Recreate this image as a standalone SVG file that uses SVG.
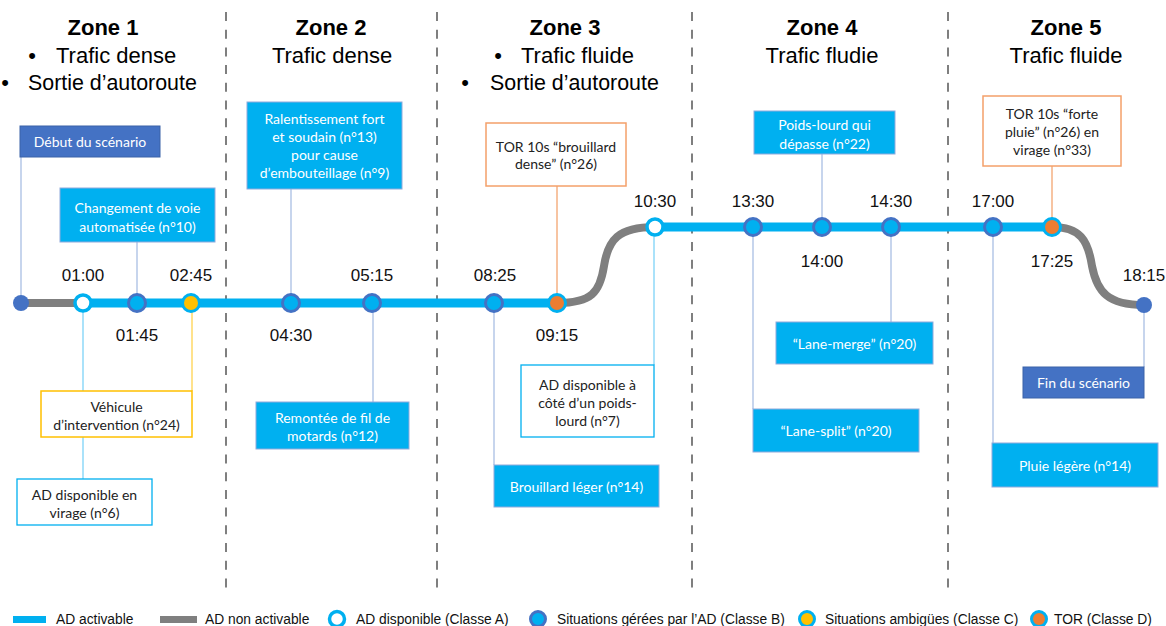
<svg xmlns="http://www.w3.org/2000/svg" width="1166" height="626" viewBox="0 0 1166 626">
<style>
.zt{font-family:"Liberation Sans",Arial,sans-serif;font-size:22px;font-weight:bold;fill:#000;text-anchor:middle}
.zl{font-family:"Liberation Sans",Arial,sans-serif;font-size:22px;fill:#000}
.zc{text-anchor:middle}
.ts{font-family:"Liberation Sans",Arial,sans-serif;font-size:17px;fill:#111;text-anchor:middle}
.bt{font-family:Lato,"Open Sans",sans-serif;font-size:14px;text-anchor:middle;dominant-baseline:central}
.w{fill:#fff}
.k{fill:#222}
.blue{fill:#00B0F0;stroke:#8FAADC;stroke-width:1}
.dark{fill:#4472C4;stroke:#3A62A8;stroke-width:1}
.wa{fill:#fff;stroke:#00B0F0;stroke-width:1.3}
.wc{fill:#fff;stroke:#FFC000;stroke-width:1.5}
.wd{fill:#fff;stroke:#F4A06A;stroke-width:1.5}
.sep{stroke:#7F7F7F;stroke-width:2;stroke-dasharray:9 8.7;fill:none}
.cb{stroke:#B4C7E7;stroke-width:1.5;fill:none}
.ca{stroke:#8ED8F8;stroke-width:1.5;fill:none}
.cy{stroke:#FFD966;stroke-width:1.5;fill:none}
.co{stroke:#F4B183;stroke-width:1.5;fill:none}
.on{stroke:#00B0F0;stroke-width:9;fill:none}
.off{stroke:#7F7F7F;stroke-width:8;fill:none}
.pA{fill:#fff;stroke:#00B0F0;stroke-width:3.5}
.pB{fill:#00B0F0;stroke:#4472C4;stroke-width:3}
.pC{fill:#FFC000;stroke:#00B0F0;stroke-width:3}
.pD{fill:#ED7D31;stroke:#00B0F0;stroke-width:3}
.pE{fill:#4472C4}
.lg{font-family:"Liberation Sans",Arial,sans-serif;font-size:13.8px;fill:#111}
</style>

<g id="separators">
<line class="sep" x1="226" y1="12" x2="226" y2="592"/>
<line class="sep" x1="437" y1="12" x2="437" y2="592"/>
<line class="sep" x1="692" y1="12" x2="692" y2="592"/>
<line class="sep" x1="948" y1="12" x2="948" y2="592"/>
</g>

<g id="headers">
<g id="zone1">
<text class="zt" x="103" y="35">Zone 1</text>
<text class="zl" x="32" y="63" text-anchor="middle">•</text>
<text class="zl" x="56" y="63">Trafic dense</text>
<text class="zl" x="5" y="90" text-anchor="middle">•</text>
<text class="zl" x="28" y="90" style="font-size:21.4px">Sortie d’autoroute</text>
</g>
<g id="zone2">
<text class="zt" x="331" y="35">Zone 2</text>
<text class="zl zc" x="332" y="63">Trafic dense</text>
</g>
<g id="zone3">
<text class="zt" x="565" y="35">Zone 3</text>
<text class="zl" x="498" y="63" text-anchor="middle">•</text>
<text class="zl" x="521" y="63">Trafic fluide</text>
<text class="zl" x="465" y="90" text-anchor="middle">•</text>
<text class="zl" x="490" y="90" style="font-size:21.4px">Sortie d’autoroute</text>
</g>
<g id="zone4">
<text class="zt" x="822" y="35">Zone 4</text>
<text class="zl zc" x="822" y="63">Trafic fludie</text>
</g>
<g id="zone5">
<text class="zt" x="1066" y="35">Zone 5</text>
<text class="zl zc" x="1066" y="63">Trafic fluide</text>
</g>
</g>

<g id="connectors">
<line class="cb" x1="21" y1="157" x2="21" y2="303"/>
<line class="cb" x1="137" y1="242" x2="137" y2="303"/>
<line class="cb" x1="291" y1="189" x2="291" y2="303"/>
<line class="ca" x1="83" y1="303" x2="83" y2="479"/>
<line class="cy" x1="192" y1="303" x2="192" y2="391"/>
<line class="cb" x1="373" y1="303" x2="373" y2="402"/>
<line class="co" x1="557" y1="186" x2="557" y2="303"/>
<line class="cb" x1="494" y1="303" x2="494" y2="465"/>
<line class="ca" x1="654" y1="227" x2="654" y2="365"/>
<line class="cb" x1="822" y1="154" x2="822" y2="227"/>
<line class="cb" x1="753" y1="227" x2="753" y2="409"/>
<line class="cb" x1="891" y1="227" x2="891" y2="322"/>
<line class="cb" x1="993" y1="227" x2="993" y2="443"/>
<line class="co" x1="1052" y1="166" x2="1052" y2="227"/>
<line class="cb" x1="1144" y1="305" x2="1144" y2="367"/>
</g>

<g id="timeline">
<line class="off" x1="21" y1="303" x2="83" y2="303"/>
<line class="on" x1="83" y1="303" x2="557" y2="303"/>
<path class="off" d="M557,303 C592,303 600,292 604,266 C608,240 618,227 655,227"/>
<line class="on" x1="655" y1="227" x2="1052" y2="227"/>
<path class="off" d="M1052,227 C1080,227 1088,240 1092,266 C1097,292 1108,305 1144,305"/>
</g>

<g id="points">
<circle class="pE" cx="21" cy="303" r="8"/>
<circle class="pA" cx="83" cy="303" r="8"/>
<circle class="pB" cx="137" cy="303" r="8.5"/>
<circle class="pC" cx="191" cy="303" r="8.5"/>
<circle class="pB" cx="291" cy="303" r="8.5"/>
<circle class="pB" cx="372" cy="303" r="8.5"/>
<circle class="pB" cx="494" cy="303" r="8.5"/>
<circle class="pD" cx="557" cy="303" r="8.5"/>
<circle class="pA" cx="655" cy="227" r="8"/>
<circle class="pB" cx="753" cy="227" r="8.5"/>
<circle class="pB" cx="822" cy="227" r="8.5"/>
<circle class="pB" cx="891" cy="227" r="8.5"/>
<circle class="pB" cx="993" cy="227" r="8.5"/>
<circle class="pD" cx="1052" cy="227" r="8.5"/>
<circle class="pE" cx="1144" cy="305" r="8"/>
</g>

<g id="times">
<text class="ts" x="83" y="281">01:00</text>
<text class="ts" x="137" y="341">01:45</text>
<text class="ts" x="191" y="281">02:45</text>
<text class="ts" x="291" y="341">04:30</text>
<text class="ts" x="372" y="281">05:15</text>
<text class="ts" x="495" y="281">08:25</text>
<text class="ts" x="557" y="341">09:15</text>
<text class="ts" x="655" y="207">10:30</text>
<text class="ts" x="753" y="207">13:30</text>
<text class="ts" x="822" y="267">14:00</text>
<text class="ts" x="891" y="207">14:30</text>
<text class="ts" x="993" y="207">17:00</text>
<text class="ts" x="1052" y="267">17:25</text>
<text class="ts" x="1144" y="281">18:15</text>
</g>

<g id="n-debut">
<rect class="dark" x="20" y="126" width="140" height="31"/>
<text class="bt w" x="90" y="141.5">Début du scénario</text>
</g>
<g id="n-changement">
<rect class="blue" x="60" y="188" width="155" height="54"/>
<text class="bt w" x="137.5" y="207">Changement de voie</text>
<text class="bt w" x="137.5" y="226">automatisée (n°10)</text>
</g>
<g id="n-ralentissement">
<rect class="blue" x="247" y="102" width="155" height="87"/>
<text class="bt w" x="324.5" y="118">Ralentissement fort</text>
<text class="bt w" x="324.5" y="136">et soudain (n°13)</text>
<text class="bt w" x="324.5" y="154">pour cause</text>
<text class="bt w" x="324.5" y="172.5">d’embouteillage (n°9)</text>
</g>
<g id="n-vehicule">
<rect class="wc" x="41" y="391" width="151" height="46"/>
<text class="bt k" x="116.5" y="406">Véhicule</text>
<text class="bt k" x="116.5" y="424">d’intervention (n°24)</text>
</g>
<g id="n-virage">
<rect class="wa" x="17" y="479" width="135" height="46"/>
<text class="bt k" x="84.5" y="494">AD disponible en</text>
<text class="bt k" x="84.5" y="512.5">virage (n°6)</text>
</g>
<g id="n-remontee">
<rect class="blue" x="256" y="402" width="153" height="47"/>
<text class="bt w" x="332.5" y="417">Remontée de fil de</text>
<text class="bt w" x="332.5" y="435">motards (n°12)</text>
</g>
<g id="n-tor-brouillard">
<rect class="wd" x="486" y="123" width="140" height="63"/>
<text class="bt k" x="556" y="146">TOR 10s “brouillard</text>
<text class="bt k" x="556" y="163.5">dense” (n°26)</text>
</g>
<g id="n-cote">
<rect class="wa" x="521" y="365" width="133" height="72"/>
<text class="bt k" x="587.5" y="384">AD disponible à</text>
<text class="bt k" x="587.5" y="402">côté d’un poids-</text>
<text class="bt k" x="587.5" y="420">lourd (n°7)</text>
</g>
<g id="n-brouillard">
<rect class="blue" x="494" y="465" width="165" height="42"/>
<text class="bt w" x="576.5" y="486">Brouillard léger (n°14)</text>
</g>
<g id="n-poids">
<rect class="blue" x="754" y="111" width="141" height="43"/>
<text class="bt w" x="824.5" y="124.5">Poids-lourd qui</text>
<text class="bt w" x="824.5" y="143">dépasse (n°22)</text>
</g>
<g id="n-merge">
<rect class="blue" x="776" y="322" width="157" height="42"/>
<text class="bt w" x="854.5" y="343">“Lane-merge” (n°20)</text>
</g>
<g id="n-split">
<rect class="blue" x="753" y="409" width="166" height="43"/>
<text class="bt w" x="836" y="430.5">“Lane-split” (n°20)</text>
</g>
<g id="n-tor-pluie">
<rect class="wd" x="983" y="96" width="138" height="70"/>
<text class="bt k" x="1052" y="113">TOR 10s “forte</text>
<text class="bt k" x="1052" y="131">pluie” (n°26) en</text>
<text class="bt k" x="1052" y="149">virage (n°33)</text>
</g>
<g id="n-fin">
<rect class="dark" x="1023" y="367" width="121" height="31"/>
<text class="bt w" x="1083.5" y="382.5">Fin du scénario</text>
</g>
<g id="n-pluie">
<rect class="blue" x="992" y="443" width="166" height="44"/>
<text class="bt w" x="1075" y="465">Pluie légère (n°14)</text>
</g>

<g id="legend">
<rect x="13" y="616" width="33" height="7" fill="#00B0F0"/>
<text class="lg" x="56" y="624">AD activable</text>
<rect x="160" y="616" width="37" height="7" fill="#7F7F7F"/>
<text class="lg" x="205" y="624">AD non activable</text>
<circle class="pA" cx="337" cy="619" r="7.5"/>
<text class="lg" x="356" y="624">AD disponible (Classe A)</text>
<circle class="pB" cx="538" cy="619" r="7.5"/>
<text class="lg" x="557" y="624">Situations gérées par l’AD (Classe B)</text>
<circle class="pC" cx="807" cy="619" r="7.5"/>
<text class="lg" x="825" y="624">Situations ambigües (Classe C)</text>
<circle class="pD" cx="1039" cy="619" r="7.5"/>
<text class="lg" x="1054" y="624">TOR (Classe D)</text>
</g>
</svg>
